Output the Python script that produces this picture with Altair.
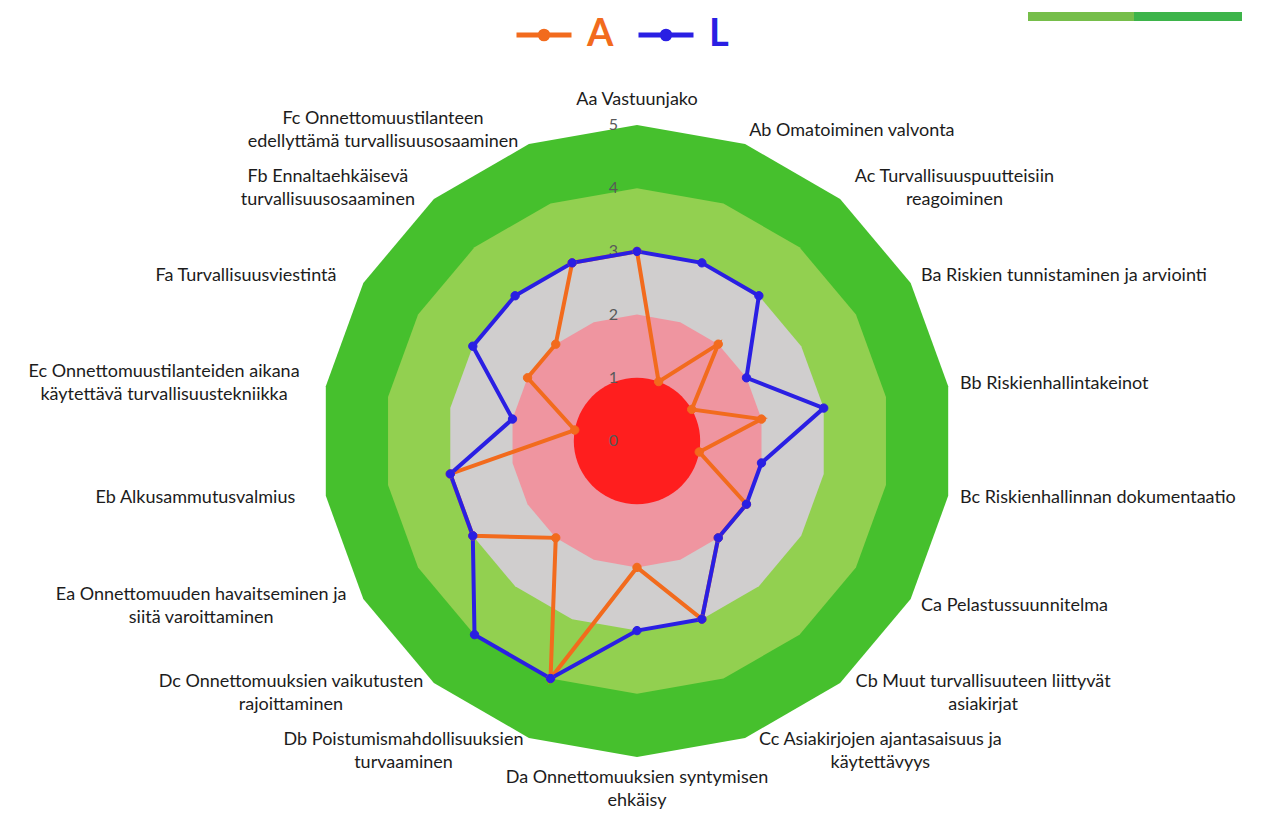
import altair as alt
import pandas as pd

# ---------------- data ----------------
categories = [
    "Aa Vastuunjako",
    "Ab Omatoiminen valvonta",
    "Ac Turvallisuuspuutteisiin\nreagoiminen",
    "Ba Riskien tunnistaminen ja arviointi",
    "Bb Riskienhallintakeinot",
    "Bc Riskienhallinnan dokumentaatio",
    "Ca Pelastussuunnitelma",
    "Cb Muut turvallisuuteen liittyvät\nasiakirjat",
    "Cc Asiakirjojen ajantasaisuus ja\nkäytettävyys",
    "Da Onnettomuuksien syntymisen\nehkäisy",
    "Db Poistumismahdollisuuksien\nturvaaminen",
    "Dc Onnettomuuksien vaikutusten\nrajoittaminen",
    "Ea Onnettomuuden havaitseminen ja\nsiitä varoittaminen",
    "Eb Alkusammutusvalmius",
    "Ec Onnettomuustilanteiden aikana\nkäytettävä turvallisuustekniikka",
    "Fa Turvallisuusviestintä",
    "Fb Ennaltaehkäisevä\nturvallisuusosaaminen",
    "Fc Onnettomuustilanteen\nedellyttämä turvallisuusosaaminen",
]
values_A = [3, 1, 2, 1, 2, 1, 2, 2, 3, 2, 4, 2, 3, 3, 1, 2, 2, 3]
values_L = [3, 3, 3, 2, 3, 2, 2, 2, 3, 3, 4, 4, 3, 3, 2, 3, 3, 3]
series_names = ["A", "L"]
series_colors = ["#F26B1D", "#2A1FE3"]
band_levels = [5, 4, 3, 2]
band_colors = ["#46C02D", "#92D050", "#D0CECE", "#EF95A0"]
center_color = "#FF1E1E"
tick_values = [0, 1, 2, 3, 4, 5]

# ---------------- geometry / style ----------------
N = len(categories)
W, H = 1245, 802
CX, CY = 629, 433          # plot centre in chart pixels
U = 63.2                   # pixels per unit of value
xdom = [-CX / U, (W - CX) / U]
ydom = [-(H - CY) / U, CY / U]
FONT = "Lato"
FS = 18
CW = 8.2                   # approx. label char width (px)
LH = 23                    # label line height

xs = alt.Scale(domain=xdom, nice=False, zero=False)
ys = alt.Scale(domain=ydom, nice=False, zero=False)
X = alt.X("x:Q", scale=xs, axis=None)
Y = alt.Y("y:Q", scale=ys, axis=None)

ANG = f"datum.idx * 2 * PI / {N}"

# ---------------- tables ----------------
rows = []
for name, vals in zip(series_names, [values_A, values_L]):
    for i in range(N + 1):
        rows.append({"series": name, "idx": i, "value": vals[i % N]})
series_df = pd.DataFrame(rows)

band_rows = []
for lvl in band_levels:
    for i in range(N + 1):
        band_rows.append({"level": lvl, "idx": i})
band_df = pd.DataFrame(band_rows)

lab_rows = []
for i, lab in enumerate(categories):
    lines = lab.split("\n")
    lab_rows.append({"label": lab, "idx": i, "nlines": len(lines),
                     "maxlen": max(len(s) for s in lines)})
lab_df = pd.DataFrame(lab_rows)

tick_df = pd.DataFrame({"value": tick_values})

# ---------------- background bands ----------------
layers = []
for lvl, col in zip(band_levels, band_colors):
    layers.append(
        alt.Chart(band_df)
        .transform_filter(f"datum.level == {lvl}")
        .transform_calculate(
            x=f"datum.level * sin({ANG})", y=f"datum.level * cos({ANG})")
        .mark_line(fill=col, stroke=col, strokeWidth=0, interpolate="linear")
        .encode(x=X, y=Y, order="idx:Q")
    )

# centre red disc (value 1)
layers.append(
    alt.Chart(alt.sequence(0, 73, 1, as_="k"))
    .transform_calculate(
        x="sin(datum.k * 2 * PI / 72)", y="cos(datum.k * 2 * PI / 72)")
    .mark_line(fill=center_color, stroke=center_color, strokeWidth=0)
    .encode(x=X, y=Y, order="k:Q")
)

# radial tick labels
layers.append(
    alt.Chart(tick_df)
    .transform_calculate(x=str(-23.5 / U), y="datum.value")
    .mark_text(font=FONT, fontSize=16, color="#595959", align="center",
               baseline="middle")
    .encode(x=X, y=Y, text="value:Q")
)

# ---------------- series ----------------
sc = alt.Scale(domain=series_names, range=series_colors)
calc_series = dict(x=f"datum.value * sin({ANG})", y=f"datum.value * cos({ANG})")

layers.append(
    alt.Chart(series_df)
    .transform_calculate(**calc_series)
    .mark_line(strokeWidth=4)
    .encode(x=X, y=Y, order="idx:Q",
            color=alt.Color("series:N", scale=sc, legend=None))
)

leg = alt.Legend(
    title=None, orient="none", legendX=506, legendY=-3, direction="horizontal",
    symbolType="M-1,0L1,0M-0.14,0A0.14,0.14,0,1,1,0.14,0A0.14,0.14,0,1,1,-0.14,0Z",
    symbolSize=3025, symbolStrokeWidth=5, symbolOpacity=1,
    labelFont=FONT, labelFontSize=38, labelFontWeight="bold",
    labelOffset=13, columnPadding=14, padding=0,
    labelColor=alt.ExprRef(f"datum.value === 'A' ? '{series_colors[0]}' : '{series_colors[1]}'"),
)
layers.append(
    alt.Chart(series_df)
    .transform_filter(f"datum.idx < {N}")
    .transform_calculate(**calc_series)
    .mark_point(filled=True, size=70, opacity=1, strokeWidth=1)
    .encode(x=X, y=Y,
            fill=alt.Fill("series:N", scale=sc, legend=leg),
            stroke=alt.Stroke("series:N", scale=sc, legend=leg))
)

# ---------------- category labels ----------------
half = LH / 2
lab_calc = dict(
    ang=ANG,
    s="sin(datum.ang)",
    c="cos(datum.ang)",
    side="datum.s > 0.1 ? 1 : (datum.s < -0.1 ? -1 : 0)",
    edge=f"datum.side == 1 ? {328 / U} * datum.s : {347 / U} * datum.s",
    xc=f"datum.edge + datum.side * datum.maxlen * {CW} / 2 / {U}",
    yc=f"(330 * datum.c + (abs(datum.c) > 0.99 ? (datum.c > 0 ? 1 : -1) * datum.nlines * {half} : 0)) / {U}",
    yc2=f"max(datum.yc, {ydom[0]} + (9 + (datum.nlines - 1) * {half}) / {U})",
    y=f"datum.yc2 + (datum.nlines - 1) * {half} / {U}",
)
txt = dict(font=FONT, fontSize=FS, color="#1c1c1c", baseline="middle",
           lineBreak="\n", lineHeight=LH)
base_lab = alt.Chart(lab_df).transform_calculate(**lab_calc)
layers.append(
    base_lab.transform_filter("datum.side == 1 && datum.nlines == 1")
    .transform_calculate(x="datum.edge")
    .mark_text(align="left", **txt)
    .encode(x=X, y=Y, text="label:N")
)
layers.append(
    base_lab.transform_filter("datum.side == -1 && datum.nlines == 1")
    .transform_calculate(x="datum.edge")
    .mark_text(align="right", **txt)
    .encode(x=X, y=Y, text="label:N")
)
layers.append(
    base_lab.transform_filter("datum.side == 0 || datum.nlines > 1")
    .transform_calculate(x="datum.xc")
    .mark_text(align="center", **txt)
    .encode(x=X, y=Y, text="label:N")
)

# ---------------- header bar (top right) ----------------
hdr = alt.Data(values=[{"a": 1}])
layers.append(
    alt.Chart(hdr).mark_rect(color="#76BE4A")
    .encode(x=alt.value(1020), x2=alt.value(1126), y=alt.value(4), y2=alt.value(13))
)
layers.append(
    alt.Chart(hdr).mark_rect(color="#3DB44A")
    .encode(x=alt.value(1126), x2=alt.value(1234), y=alt.value(4), y2=alt.value(13))
)

chart = (
    alt.layer(*layers)
    .resolve_scale(color="independent")
    .properties(width=W, height=H, padding=0,
                autosize=alt.AutoSizeParams(type="none"))
    .configure_view(stroke=None)
)

chart.save("out.html", embed_options={"renderer": "svg", "actions": False})
